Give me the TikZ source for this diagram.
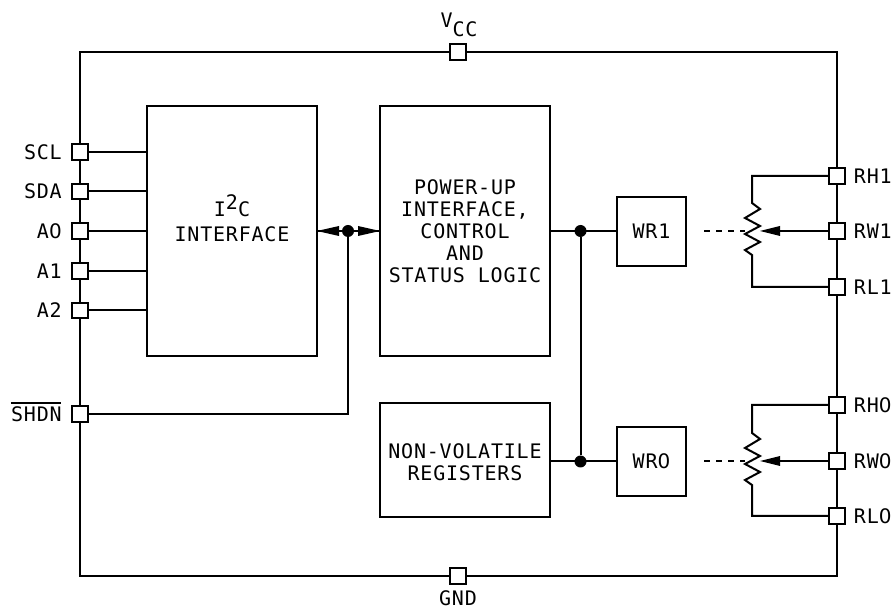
\documentclass[tikz,border=0pt]{standalone}
\usepackage{fontspec}
\usetikzlibrary{calc}
\setmainfont[LetterSpace=4]{DejaVu Sans Mono}
\newfontfamily\zf{DejaVu Sans}
\newcommand{\zr}{{\zf 0}}
\tikzset{
  px/.style={x=0.75pt,y=-0.75pt},
  wire/.style={line width=1.5pt,black},
  pin/.style={draw=black,fill=white,line width=1.5pt,minimum size=11.5pt,inner sep=0pt,outer sep=0pt},
  blockbox/.style={draw=black,line width=1.5pt,inner sep=0pt,outer sep=0pt,align=center,font=\fontsize{15pt}{18pt}\selectfont},
  lbl/.style={font=\fontsize{15pt}{16pt}\selectfont,inner sep=0pt},
  dot/.style={circle,fill=black,minimum size=9pt,inner sep=0pt,outer sep=0pt}
}
\begin{document}
\begin{tikzpicture}[px]
\useasboundingbox (0,0) rectangle (893,609);
% outer rectangle
\coordinate (tl) at (80,52); \coordinate (tr) at (837,52);
\coordinate (bl) at (80,576); \coordinate (br) at (837,576);
\draw[wire] (tl) -- (tr) -- (br) -- (bl) -- cycle;
% blocks
\node[blockbox,minimum width=127.5pt,minimum height=187.5pt] (i2c) at (232,231) {};
\node[blockbox,minimum width=127.5pt,minimum height=187.5pt] (pwr) at (465,231) {};
\node[blockbox,minimum width=127.5pt,minimum height=85.5pt] (nv) at (465,460) {};
\node[blockbox,minimum width=52pt,minimum height=52pt] (wr1) at (651.5,231.5) {WR1};
\node[blockbox,minimum width=52pt,minimum height=52pt] (wr0) at (651.5,461.5) {WR\zr};
% block text
\node[lbl,align=center,font=\fontsize{15pt}{18.5pt}\selectfont] (i2ct) at (232,222) {I\smash{\raisebox{5.5pt}{2}}C\\INTERFACE};
\node[lbl,align=center,font=\fontsize{15pt}{16.5pt}\selectfont] (pwrt) at (465,231) {POWER-UP\\INTERFACE,\\CONTROL\\AND\\STATUS LOGIC};
\node[lbl,align=center,font=\fontsize{15pt}{16.5pt}\selectfont] (nvt) at (465,462) {NON-VOLATILE\\REGISTERS};
% pins
\foreach \n/\y in {scl/152,sda/191.5,azero/231,aone/271,atwo/310.5,shdn/414}{
  \node[pin] (\n) at (80,\y) {};
}
\foreach \n/\y in {rhone/176,rwone/231,rlone/287,rhzero/405,rwzero/461,rlzero/516}{
  \node[pin] (\n) at (837,\y) {};
}
\node[pin] (vcc) at (458,52) {};
\node[pin] (gnd) at (458,576) {};
% pin labels
\foreach \n/\t in {scl/SCL,sda/SDA,azero/A\zr,aone/A1,atwo/A2}{
  \node[lbl,anchor=east,xshift=-13.5pt] at (\n.center) {\t};
}
\node[lbl,anchor=east,xshift=-13.5pt] (shdnl) at (shdn.center) {SHDN};
\draw[line width=1.1pt] ([yshift=2.5pt]shdnl.north west) -- ([yshift=2.5pt,xshift=-1pt]shdnl.north east);
\foreach \n/\t in {rhone/RH1,rwone/RW1,rlone/RL1,rhzero/RH\zr,rwzero/RW\zr,rlzero/RL\zr}{
  \node[lbl,anchor=west,xshift=12.5pt] at (\n.center) {\t};
}
\node[lbl,anchor=base] (vccl) at (459,28) {V\smash{\raisebox{-6.5pt}{CC}}};
\node[lbl] (gndl) at (458,598.5) {GND};
% left connections
\foreach \n in {scl,sda,azero,aone,atwo}{
  \draw[wire] (\n.east) -- (\n.east -| i2c.west);
}
\node[dot] (jl) at (348,231) {};
\draw[wire] (i2c.east) -- (pwr.west);
\draw[wire] (jl) |- (shdn.east);
\fill (i2c.east) -- ++(22,-5) -- ++(0,10) -- cycle;
\fill (pwr.west) -- ++(-22,-5) -- ++(0,10) -- cycle;
% right connections
\node[dot] (jr1) at (580.5,231) {};
\node[dot] (jr0) at (580.5,461.5) {};
\draw[wire] (pwr.east |- jr1) -- (wr1.west |- jr1);
\draw[wire] (nv.east |- jr0) -- (wr0.west |- jr0);
\draw[wire] (jr1) -- (jr0);
% potentiometers
\foreach \s/\hh/\ww/\ll/\bb in {a/rhone/rwone/rlone/wr1,b/rhzero/rwzero/rlzero/wr0}{
  \path (\ww.center) ++(-85,0) coordinate (\s c);
  \draw[wire,line join=miter] (\hh.west) -- (\hh.west -| \s c) -- ($(\s c)+(0,-28)$)
    -- ++(8,6) -- ++(-15,9) -- ++(15,8) -- ++(-15,8) -- ++(15,8) -- ++(-15,8) -- ++(7,5)
    -- (\ll.west -| \s c) -- (\ll.west);
  \draw[wire] (\ww.west) -- ($(\s c)+(20,0)$);
  \fill ($(\s c)+(8,0)$) -- ++(20,-5) -- ++(0,10) -- cycle;
  \draw[wire,dash pattern=on 4.5pt off 4.5pt] ($(\bb.east |- \s c)+(18,0)$) -- ($(\s c)+(-7,0)$);
}
\end{tikzpicture}
\end{document}
